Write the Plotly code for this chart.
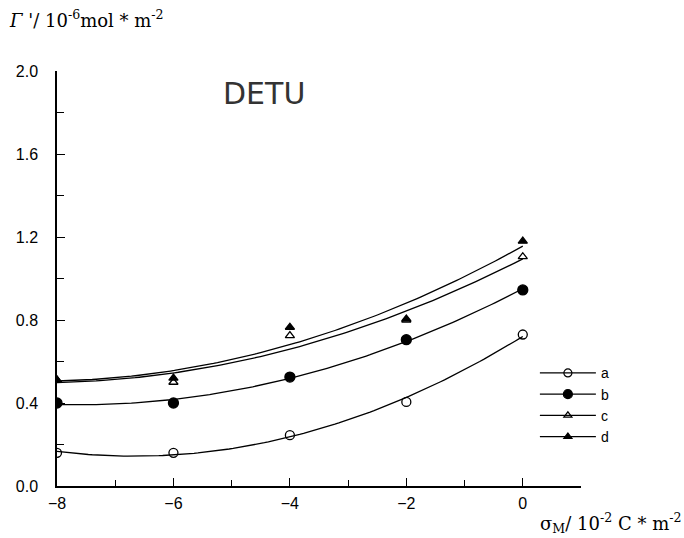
import numpy as np
import plotly.graph_objects as go

# ---- data ----
sigma = [-8, -6, -4, -2, 0]
series_names = ["a", "b", "c", "d"]
gamma_a = [0.16, 0.16, 0.245, 0.405, 0.73]
gamma_b = [0.40, 0.40, 0.525, 0.705, 0.945]
gamma_c = [0.51, 0.50, 0.725, 0.80, 1.105]
gamma_d = [0.51, 0.52, 0.765, 0.805, 1.18]
y_ticks = [0.0, 0.4, 0.8, 1.2, 1.6, 2.0]
x_ticks = [-8, -6, -4, -2, 0]

series = [gamma_a, gamma_b, gamma_c, gamma_d]
symbols = ["circle-open", "circle", "triangle-up-open", "triangle-up"]
sizes = [9, 10, 8, 8]

fig = go.Figure()
xs = np.array(sigma, dtype=float)
xfit = np.linspace(xs.min(), xs.max(), 120)
for name, ys, sym, sz in zip(series_names, series, symbols, sizes):
    coef = np.polyfit(xs, np.array(ys), 2)
    fig.add_trace(go.Scatter(
        x=xfit, y=np.polyval(coef, xfit), mode="lines",
        line=dict(color="black", width=1.3), showlegend=False, hoverinfo="skip"))
    fig.add_trace(go.Scatter(
        x=sigma, y=ys, mode="markers", name=name, showlegend=False,
        marker=dict(symbol=sym, size=sz, color="black",
                    line=dict(color="black", width=1.3))))
    # legend entry: marker over a line, like the reference key
    fig.add_trace(go.Scatter(
        x=[None], y=[None], mode="markers+lines", name=name,
        line=dict(color="black", width=1.2),
        marker=dict(symbol=sym, size=sz - 1, color="black",
                    line=dict(color="black", width=1.2))))

fig.update_layout(
    width=684, height=538,
    paper_bgcolor="white", plot_bgcolor="white",
    margin=dict(l=57, r=103, t=71, b=52, autoexpand=False),
    font=dict(family="Liberation Sans, Arial, sans-serif", size=15, color="black"),
    showlegend=True,
    legend=dict(x=0.912, y=0.31, xanchor="left", yanchor="top",
                bgcolor="rgba(0,0,0,0)", font=dict(size=14),
                tracegroupgap=0, itemwidth=56),
    xaxis=dict(range=[-8, 1], tickvals=x_ticks, ticks="inside", ticklen=8,
               tickwidth=1.3, tickcolor="black", showline=True, linecolor="black",
               linewidth=1.5, showgrid=False, zeroline=False, automargin=False,
               minor=dict(ticks="inside", dtick=1, tick0=0, ticklen=6,
                          tickwidth=1.3, tickcolor="black", showgrid=False),
               ticklabelstandoff=2, tickfont=dict(size=16)),
    yaxis=dict(range=[0, 2], tickvals=y_ticks, tickformat=".1f", ticks="inside",
               ticklen=8, tickwidth=1.3, tickcolor="black", showline=True,
               linecolor="black", linewidth=1.5, showgrid=False, zeroline=False,
               automargin=False,
               minor=dict(ticks="inside", dtick=0.2, tick0=0, ticklen=7,
                          tickwidth=1.3, tickcolor="black", showgrid=False),
               ticklabelstandoff=14, tickfont=dict(size=16)),
)

fig.add_annotation(x=0.0, y=1.0, xref="paper", yref="paper", xshift=-50, yshift=52,
                   xanchor="left", yanchor="middle", showarrow=False,
                   text="<i>Γ</i> '/ 10<sup>-6</sup>mol * m<sup>-2</sup>",
                   font=dict(family="DejaVu Serif, Liberation Serif, serif", size=18))
fig.add_annotation(x=1.0, y=0.0, xref="paper", yref="paper", xshift=102, yshift=-37,
                   xanchor="right", yanchor="middle", showarrow=False,
                   text="σ<sub>M</sub>/ 10<sup>-2</sup> C * m<sup>-2</sup>",
                   font=dict(family="DejaVu Serif, Liberation Serif, serif", size=18))
fig.add_annotation(x=0.395, y=0.945, xref="paper", yref="paper",
                   xanchor="center", yanchor="middle", showarrow=False,
                   text="DETU",
                   font=dict(family="DejaVu Sans, sans-serif", size=30, color="#333"))

fig.write_html("out.html", config={"displayModeBar": False},
               post_script="document.body.style.margin='0';document.body.style.overflow='hidden';")
